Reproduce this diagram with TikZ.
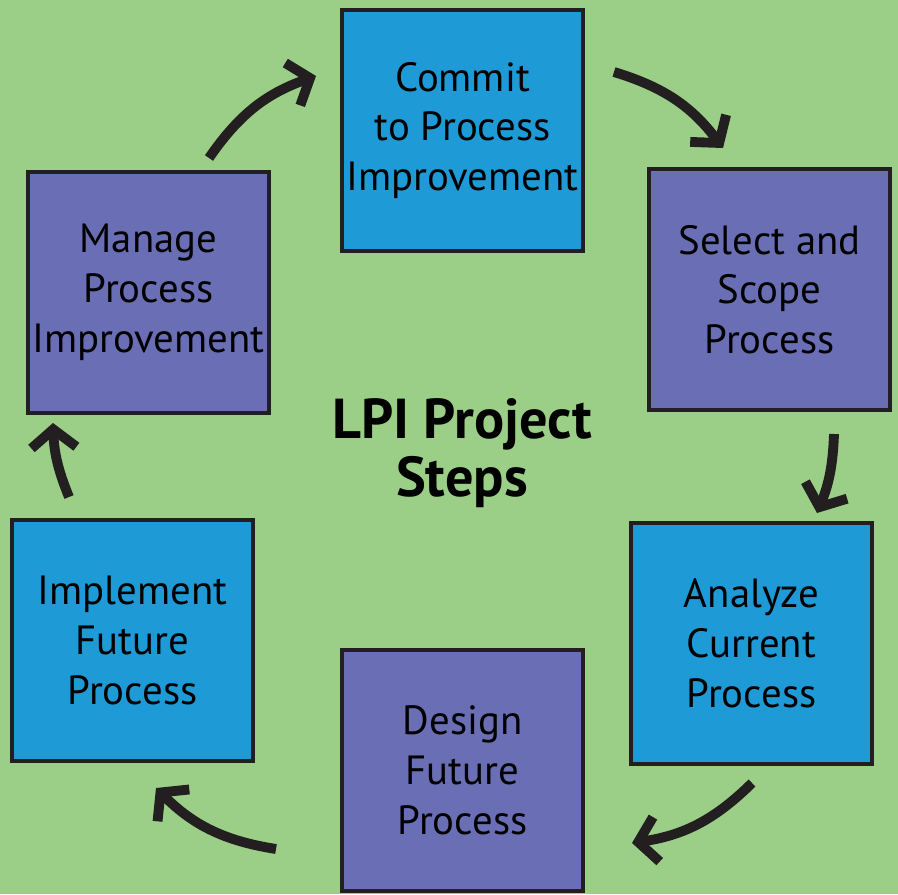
\documentclass[tikz,border=0pt]{standalone}
\usepackage{fontspec}
\setmainfont{PT Sans}
\usetikzlibrary{arrows.meta}

\definecolor{bggreen}{RGB}{155,207,135}
\definecolor{boxblue}{RGB}{30,154,214}
\definecolor{boxpurple}{RGB}{106,111,181}
\definecolor{inkdark}{RGB}{35,31,32}

\tikzset{
  stepbox/.style={draw=inkdark, line width=2.4pt, minimum width=6.03cm,
    minimum height=6.03cm, align=center, inner sep=0pt,
    font=\fontsize{29}{35.4}\selectfont},
  bluebox/.style={stepbox, fill=boxblue},
  purplebox/.style={stepbox, fill=boxpurple},
  cyclearrow/.style={draw=inkdark, line width=7pt,
    -{Straight Barb[length=13pt,width=32pt]}}
}

\begin{document}
\begin{tikzpicture}[x=0.025cm, y=-0.025cm]
  % Background
  \fill[bggreen] (0,0) rectangle (898,894);
  \useasboundingbox (0,0) rectangle (898,894);

  % Step boxes
  \node[bluebox]   (commit)    at (462.5,130.5) {Commit\\to Process\\Improvement};
  \node[purplebox] (select)    at (769.5,289.5) {Select and\\Scope\\Process};
  \node[bluebox]   (analyze)   at (751.5,643.5) {Analyze\\Current\\Process};
  \node[purplebox] (design)    at (462.5,770.5) {Design\\Future\\Process};
  \node[bluebox]   (implement) at (132.5,640.5) {Implement\\Future\\Process};
  \node[purplebox] (manage)    at (148.5,292.5) {Manage\\Process\\Improvement};

  % Title
  \node[align=center, font=\bfseries\fontsize{40}{41}\selectfont] (title) at (462,453) {LPI Project\\Steps};

  % Arrow ends
  \coordinate (manageout)    at (209,158);
  \coordinate (commitin)     at (316,76);
  \coordinate (commitout)    at (614,72);
  \coordinate (selectin)     at (723,148);
  \coordinate (selectout)    at (834,434);
  \coordinate (analyzein)    at (817,513);
  \coordinate (analyzeout)   at (752,783);
  \coordinate (designin)     at (632,843);
  \coordinate (designout)    at (276,849);
  \coordinate (implementin)  at (156,788);
  \coordinate (implementout) at (69,497);
  \coordinate (managein)     at (53,423);

  % Cycle arrows
  \foreach \from/\to/\bend in {manageout/commitin/18, commitout/selectin/18,
      selectout/analyzein/10, analyzeout/designin/18,
      designout/implementin/18, implementout/managein/10} {
    \draw[cyclearrow] (\from) to[bend left=\bend] (\to);
  }
\end{tikzpicture}
\end{document}
